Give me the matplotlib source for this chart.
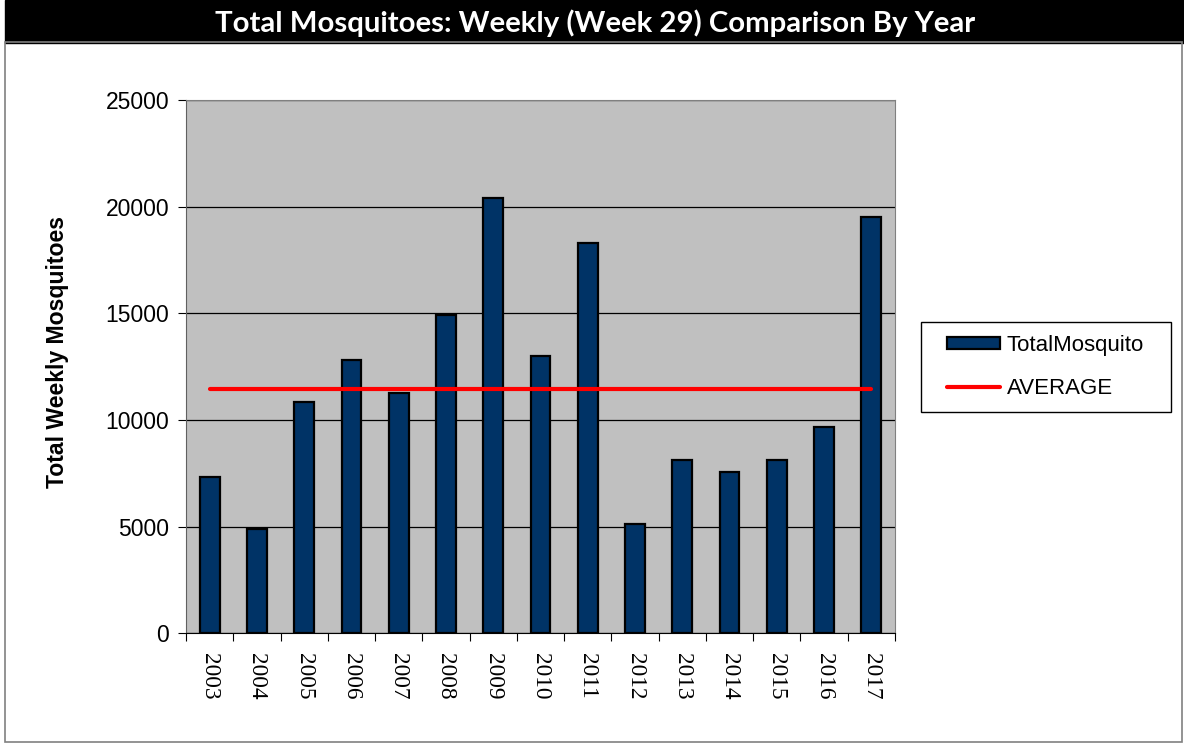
import matplotlib.pyplot as plt
from matplotlib.patches import Rectangle, Patch
from matplotlib.lines import Line2D

years = ['2003', '2004', '2005', '2006', '2007', '2008', '2009', '2010',
         '2011', '2012', '2013', '2014', '2015', '2016', '2017']
total_mosquito = [7310, 4875, 10850, 12810, 11250, 14910, 20390, 13010,
                  18310, 5125, 8125, 7550, 8125, 9655, 19520]
average = [11440] * len(years)

W, H = 1184, 744
fig = plt.figure(figsize=(W / 100, H / 100), dpi=100)

# black title bar + outer frame
fig.patches.append(Rectangle((5 / W, 1 - 43 / H), 1 - 5 / W, 43 / H,
                             transform=fig.transFigure, color='black', zorder=0))
fig.patches.append(Rectangle((5 / W, 2 / H), 1177 / W, 700 / H, transform=fig.transFigure,
                             fill=False, edgecolor='#808080', linewidth=1.2, zorder=0))
fig.text(0.503, 1 - 23 / H, 'Total Mosquitoes: Weekly (Week 29) Comparison By Year',
         color='white', fontsize=21.2, fontweight='bold', family='Lato',
         ha='center', va='center')

ax = fig.add_axes([186 / W, 1 - 633.3 / H, 709 / W, 533.3 / H])
ax.set_facecolor('#C0C0C0')

x = list(range(len(years)))
ax.bar(x, total_mosquito, width=0.42, color='#003366', edgecolor='black',
       linewidth=1.6, zorder=3)
ax.plot(x, average, color='red', linewidth=3.0, solid_capstyle='round', zorder=4)

ax.set_xlim(-0.5, len(years) - 0.5)
ax.set_ylim(0, 25000)
ax.set_yticks(range(0, 25001, 5000))
ax.yaxis.grid(True, color='black', linewidth=0.9)
ax.set_axisbelow(True)

ax.set_xticks([i - 0.5 for i in range(len(years) + 1)])
ax.set_xticklabels([])
ax.set_xticks(x, minor=True)
ax.set_xticklabels(years, minor=True, rotation=-90, family='Liberation Serif',
                   fontsize=16.8, va='top')
ax.tick_params(axis='x', which='minor', length=0, pad=14)
ax.tick_params(axis='x', which='major', length=6, direction='out', color='black')
ax.tick_params(axis='y', length=6, direction='out', labelsize=16.5, pad=6)
for lab in ax.get_yticklabels():
    lab.set_family('Liberation Sans')

for side in ['top', 'right']:
    ax.spines[side].set_color('#808080')
ax.spines['left'].set_color('#606060')
ax.spines['bottom'].set_color('black')

fig.text(58 / W, 1 - 352 / H, 'Total Weekly Mosquitoes', rotation=90,
         fontsize=16.6, fontweight='bold', family='Liberation Sans',
         ha='center', va='center')

# legend frame drawn separately so padding can differ per side
fig.patches.append(Rectangle((921 / W, 1 - 412 / H), 250 / W, 90 / H,
                             transform=fig.transFigure, fill=False,
                             edgecolor='black', linewidth=1.0))
handles = [Patch(facecolor='#003366', edgecolor='black', linewidth=1.6),
           Line2D([0], [0], color='red', linewidth=3.0, solid_capstyle='round')]
fig.legend(handles, ['TotalMosquito', 'AVERAGE'], loc='center left',
           bbox_to_anchor=(947 / W, 1 - 367 / H), frameon=False,
           prop={'family': 'Liberation Sans', 'size': 16},
           handlelength=2.4, handleheight=0.45, handletextpad=0.3,
           labelspacing=1.0, borderpad=0, borderaxespad=0)

fig.savefig('out.png', dpi=100)
